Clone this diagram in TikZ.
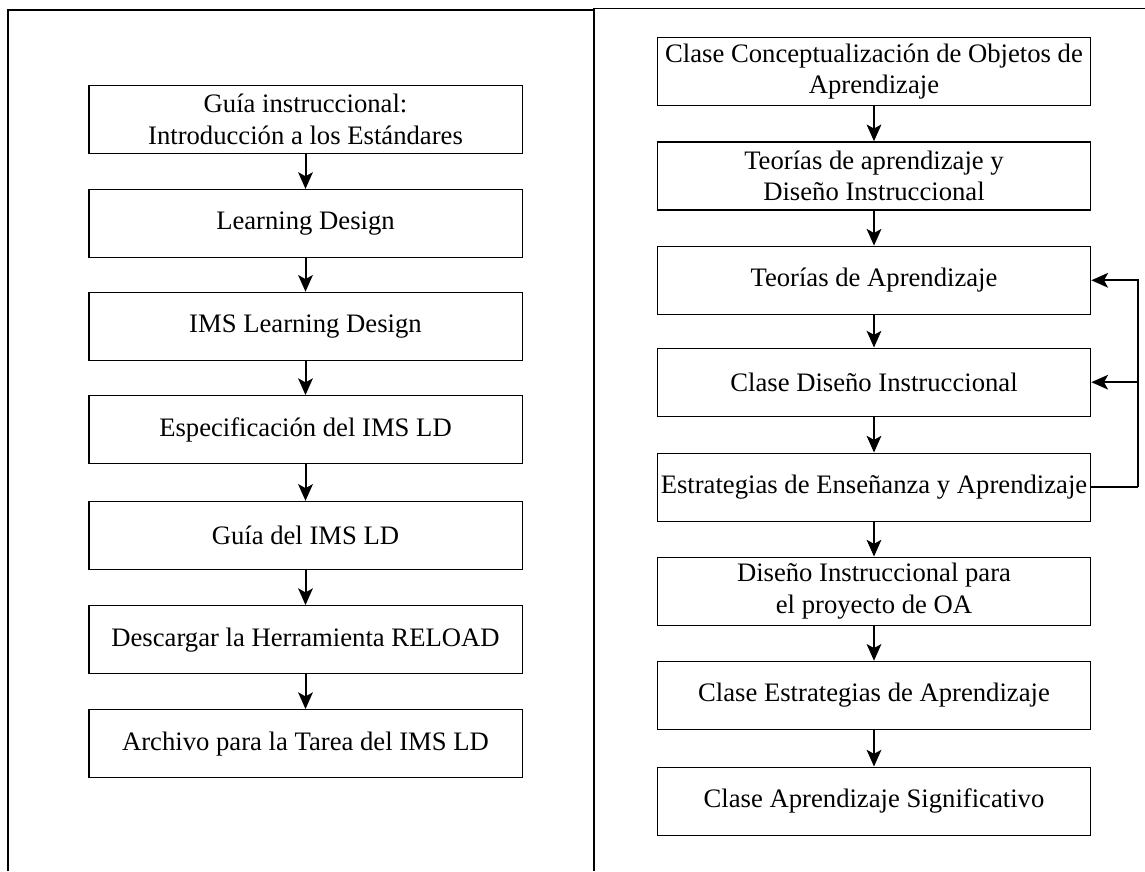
\documentclass[tikz,border=0pt]{standalone}
\usepackage{fontspec}
\setmainfont{Liberation Serif}
\usetikzlibrary{arrows.meta}
\begin{document}
\begin{tikzpicture}[x=0.75pt,y=-0.75pt,
  stepbox/.style={draw,line width=1pt,minimum width=325pt,minimum height=51pt,
    inner sep=0pt,align=center,font=\fontsize{20}{23.5}\selectfont},
  flow/.style={line width=1.5pt,-{Stealth[length=12.5pt,width=11pt,inset=3pt]}},
  frame/.style={line width=1.3pt}]
\useasboundingbox (0,0) rectangle (1145,871);

% panel frames
\draw[frame] (8,871) -- (8,10) -- (594,10);
\draw[frame] (594,871) -- (594,8.5) -- (1145,8.5);

% left column
\node[stepbox] (L1) at (305.5,119.5) {Guía instruccional:\\Introducción a los Estándares};
\node[stepbox] (L2) at (305.5,223.6) {Learning Design};
\node[stepbox] (L3) at (305.5,326.4) {IMS Learning Design};
\node[stepbox] (L4) at (305.5,429.7) {Especificación del IMS LD};
\node[stepbox] (L5) at (305.5,535.5) {Guía del IMS LD};
\node[stepbox] (L6) at (305.5,639.7) {Descargar la Herramienta RELOAD};
\node[stepbox] (L7) at (305.5,743.7) {Archivo para la Tarea del IMS LD};

\foreach \a/\b in {L1/L2,L2/L3,L3/L4,L4/L5,L5/L6,L6/L7}
  \draw[flow] (\a.south) -- (\b.north);

% right column
\node[stepbox] (R1) at (874,71.5) {Clase Conceptualización de Objetos de\\Aprendizaje};
\node[stepbox] (R2) at (874,175.9) {Teorías de aprendizaje y\\Diseño Instruccional};
\node[stepbox] (R3) at (874,280.3) {Teorías de Aprendizaje};
\node[stepbox] (R4) at (874,382.2) {Clase Diseño Instruccional};
\node[stepbox] (R5) at (874,487.2) {Estrategias de Enseñanza y Aprendizaje};
\node[stepbox] (R6) at (874,591.2) {Diseño Instruccional para\\el proyecto de OA};
\node[stepbox] (R7) at (874,695.4) {Clase Estrategias de Aprendizaje};
\node[stepbox] (R8) at (874,801.2) {Clase Aprendizaje Significativo};

\foreach \a/\b in {R1/R2,R2/R3,R3/R4,R4/R5,R5/R6,R6/R7,R7/R8}
  \draw[flow] (\a.south) -- (\b.north);

% feedback loop on the right
\coordinate (loop) at (1138,487.2);
\draw[line width=1.5pt] (R5.east) -- (loop);
\draw[flow] (loop) |- (R3.east);
\draw[flow] (loop |- R4.east) -- (R4.east);
\end{tikzpicture}
\end{document}
